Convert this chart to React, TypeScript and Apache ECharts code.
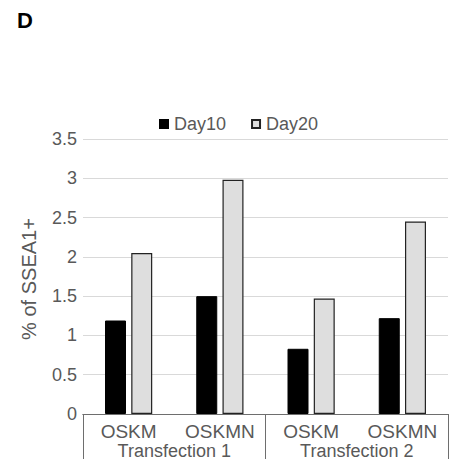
import React, { useEffect, useRef } from "react";
import * as echarts from "echarts";

const categories = ["OSKM", "OSKMN", "OSKM", "OSKMN"];
const groups = ["Transfection 1", "Transfection 2"];
const day10 = [1.19, 1.5, 0.83, 1.22];
const day20 = [2.05, 2.98, 1.47, 2.45];
const seriesNames = ["Day10", "Day20"];
const yTitle = "% of SSEA1+";

const FONT = "'Liberation Sans', Arial, sans-serif";
const TXT = "#595959";

export default function App() {
  const ref = useRef<HTMLDivElement>(null);
  useEffect(() => {
    if (!ref.current) return;
    const chart = echarts.init(ref.current, undefined, { renderer: "svg" });
    chart.setOption({
      animation: false,
      textStyle: { fontFamily: FONT },
      title: {
        text: "D",
        left: 12,
        top: 4,
        textStyle: { fontFamily: FONT, fontSize: 22, fontWeight: "bold", color: "#000" },
      },
      legend: {
        left: 154,
        top: 110,
        itemWidth: 8,
        itemHeight: 8,
        itemGap: 25,
        icon: "rect",
        textStyle: { fontFamily: FONT, fontSize: 18, color: TXT, padding: [0, 0, 0, 1] },
        data: seriesNames,
      },
      graphic: [
        {
          type: "text",
          x: 29,
          y: 279,
          rotation: Math.PI / 2,
          style: {
            text: yTitle,
            x: 0,
            y: 0,
            align: "center",
            verticalAlign: "middle",
            fontSize: 20,
            fontFamily: FONT,
            fill: TXT,
          },
        },
      ],
      grid: { left: 83, right: 4, top: 139, bottom: 57, containLabel: false },
      xAxis: [
        {
          type: "category",
          data: categories,
          position: "bottom",
          axisLine: { show: true, lineStyle: { color: "#6e6e6e", width: 1 } },
          axisTick: { show: false },
          axisLabel: { margin: 8, fontSize: 19, color: TXT, fontFamily: FONT, interval: 0 },
        },
        {
          type: "category",
          data: groups,
          position: "bottom",
          axisLine: { show: true, lineStyle: { color: "#6e6e6e", width: 1 } },
          axisTick: { show: true, length: 45, alignWithLabel: false, lineStyle: { color: "#6e6e6e", width: 1 } },
          axisLabel: { margin: 28, fontSize: 18, color: TXT, fontFamily: FONT, interval: 0 },
        },
      ],
      yAxis: {
        type: "value",
        min: 0,
        max: 3.5,
        interval: 0.5,
        axisLine: { show: false },
        axisTick: { show: false },
        axisLabel: { fontSize: 18, color: TXT, fontFamily: FONT, margin: 6 },
        splitLine: { lineStyle: { color: "#d9d9d9", width: 1 } },
      },
      series: [
        {
          name: seriesNames[0],
          type: "bar",
          xAxisIndex: 0,
          data: day10,
          barWidth: "23%",
          barGap: "25%",
          itemStyle: { color: "#000", borderColor: "#000", borderWidth: 1 },
        },
        {
          name: seriesNames[1],
          type: "bar",
          xAxisIndex: 0,
          data: day20,
          barWidth: "23%",
          barGap: "25%",
          itemStyle: { color: "#dedede", borderColor: "#222", borderWidth: 1.2 },
        },
      ],
    });
    return () => chart.dispose();
  }, []);
  return (
    <div
      ref={ref}
      style={{ position: "fixed", left: 0, top: 0, width: 452, height: 471, background: "#fff" }}
    />
  );
}
